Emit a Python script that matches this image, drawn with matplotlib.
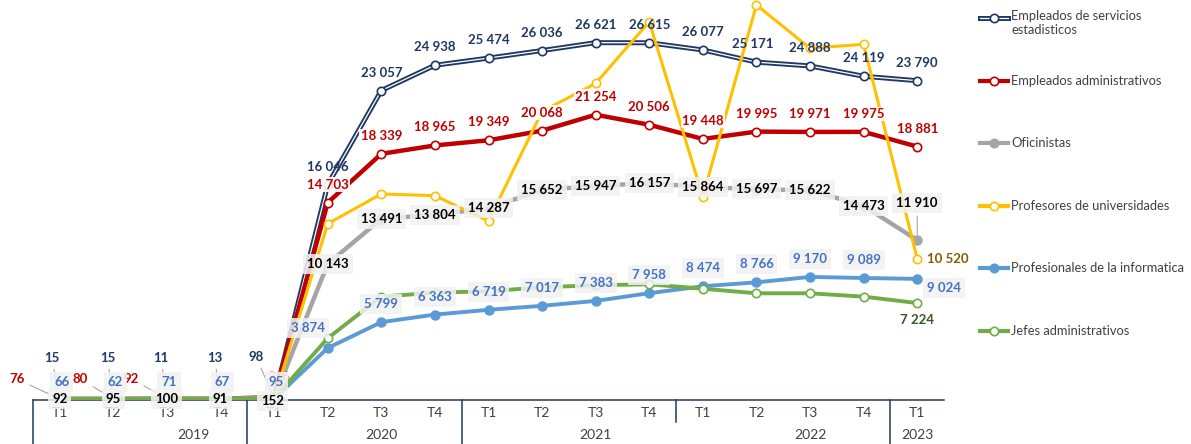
import matplotlib
matplotlib.use("Agg")
import matplotlib.pyplot as plt
from matplotlib.lines import Line2D

plt.rcParams['font.family'] = ['Lato', 'DejaVu Sans']

# data
quarters = ['T1', 'T2', 'T3', 'T4'] * 4 + ['T1']
years = ['2019', '2020', '2021', '2022', '2023']
year_pos = [2.5, 6, 10, 14, 16]
year_bounds = [-0.5, 3.5, 7.5, 11.5, 15.5]

servicios = [15, 15, 11, 13, 98, 16046, 23057, 24938, 25474, 26036, 26621, 26615, 26077, 25171, 24888, 24119, 23790]
administrativos = [76, 80, 92, 90, 216, 14703, 18339, 18965, 19349, 20068, 21254, 20506, 19448, 19995, 19971, 19975, 18881]
oficinistas = [92, 95, 100, 91, 152, 10143, 13491, 13804, 14287, 15652, 15947, 16157, 15864, 15697, 15622, 14473, 11910]
profesores = [60, 60, 60, 60, 100, 13135, 15350, 15220, 13335, 21500, 23590, 28180, 15150, 29430, 26200, 26500, 10520]
informatica = [66, 62, 71, 67, 95, 3874, 5799, 6363, 6719, 7017, 7383, 7958, 8474, 8766, 9170, 9089, 9024]
jefes = [80, 80, 85, 80, 140, 4600, 7700, 8000, 8100, 8400, 8550, 8620, 8290, 7950, 7950, 7700, 7224]

names = ['Empleados de servicios\nestadisticos', 'Empleados administrativos', 'Oficinistas',
         'Profesores de universidades', 'Profesionales de la informatica', 'Jefes administrativos']

NAVY = '#1F3864'
RED = '#C00000'
GRAY = '#A5A5A5'
YEL = '#FFC000'
BLUE = '#5B9BD5'
GREEN = '#70AD47'
TXT = '#404040'

W, H = 1191, 444
fig = plt.figure(figsize=(W / 100, H / 100), dpi=100)
ax = fig.add_axes([33 / W, 44 / H, (944 - 33) / W, 400 / H])
x = list(range(len(quarters)))

# lines
ax.plot(x, servicios, color=NAVY, lw=3.6, zorder=3, solid_capstyle='round')
ax.plot(x, servicios, color='white', lw=0.9, zorder=3.1)
ax.plot(x, servicios, ls='none', marker='o', ms=6, mfc='white', mec=NAVY, mew=1.2, zorder=3.2)
ax.plot(x, administrativos, color=RED, lw=3.2, marker='o', ms=6, mfc='white', mec=RED, mew=1.2, zorder=4)
ax.plot(x, oficinistas, color=GRAY, lw=3.2, marker='o', ms=6.5, mfc=GRAY, mec=GRAY, zorder=5)
ax.plot(x, profesores, color=YEL, lw=2.2, marker='o', ms=6, mfc='white', mec=YEL, mew=1.2, zorder=6)
ax.plot(x, informatica, color=BLUE, lw=2.8, marker='o', ms=6.5, mfc=BLUE, mec=BLUE, zorder=7)
ax.plot(x, jefes, color=GREEN, lw=2.8, marker='o', ms=6, mfc='white', mec=GREEN, mew=1.2, zorder=8)

ax.set_xlim(-0.5, 16.5)
ax.set_ylim(0, 29800)
for s in ax.spines.values():
    s.set_visible(False)
ax.set_yticks([])
ax.set_xticks(x)
ax.set_xticklabels(quarters, fontsize=10, color=TXT)
ax.tick_params(axis='x', length=0, pad=5)

# category axis lines
tr = ax.get_xaxis_transform()
ax.plot([-0.5, 16.5], [0, 0], color=NAVY, lw=1.1, transform=tr, clip_on=False, zorder=2)
for b in year_bounds:
    bottom = -0.055 if b == 11.5 else -0.11
    ax.plot([b, b], [0, bottom], color=NAVY, lw=1.1, transform=tr, clip_on=False)
for yr, p in zip(years, year_pos):
    ax.text(p, -0.088, yr, transform=tr, ha='center', va='center', fontsize=10, color=TXT)


def lab(vals, i, dx, dy, color, box=None, ha='center', alpha=1.0, leader=False, text=None):
    t = text if text is not None else f'{vals[i]:,}'.replace(',', ' ')
    kw = {}
    if box == 'gray':
        kw['bbox'] = dict(boxstyle='square,pad=0.3', fc='#F2F2F2', ec='none', alpha=0.85)
    elif box == 'white':
        kw['bbox'] = dict(boxstyle='square,pad=0.1', fc='white', ec='none', alpha=0.9)
    if leader:
        kw['arrowprops'] = dict(arrowstyle='-', color='#A6A6A6', lw=0.8, shrinkA=2, shrinkB=4)
    ax.annotate(t, (i, vals[i]), xytext=(dx * 0.72, dy * 0.72), textcoords='offset points',
                ha=ha, va='center', fontsize=9.5, fontweight='bold', color=color,
                alpha=alpha, zorder=10, **kw)


# 2019 / 2020 T1 small values
for i, dx in zip(range(5), [-8, -6, -6, -6, -18]):
    lab(servicios, i, dx, 42, NAVY, leader=True)
for i, dx in zip([0, 1, 2], [-43, -33, -36]):
    lab(administrativos, i, dx, 20, RED, leader=True)
lab(administrativos, 4, 5, 20, '#E06666', alpha=0.6)
for i in range(5):
    lab(informatica, i, 2, 17, '#4472C4', box='gray')
for i in range(4):
    lab(oficinistas, i, 0, 0, 'black', box='gray')
lab(oficinistas, 4, -2, -3, 'black', box='gray')

# main labels
for i in range(5, 17):
    lab(servicios, i, -4 if i == 13 else 0, 18, NAVY)
    lab(administrativos, i, 0, 18, RED, box='white')
    if i < 16:
        lab(oficinistas, i, 0, 0, 'black', box='gray')
    if i == 5:
        lab(informatica, i, -20, 20, '#4472C4', box='gray')
    elif i < 16:
        lab(informatica, i, 0, 18, '#4472C4', box='gray')
lab(oficinistas, 16, 0, 37, 'black', box='gray', leader=True)
lab(informatica, 16, 10, -9, '#4472C4', box='gray', ha='left')
lab(profesores, 16, 10, 0, '#7F6000', ha='left')
lab(jefes, 16, 0, -17, '#375623')

# legend
colors = [NAVY, RED, GRAY, YEL, BLUE, GREEN]
filled = [False, False, True, False, True, False]
ly = [18, 81, 143, 206, 268, 331]
for n, c, f, yy in zip(names, colors, filled, ly):
    yf = 1 - yy / H
    if c == NAVY:
        fig.add_artist(Line2D([980 / W, 1008 / W], [yf, yf], color=c, lw=3.6))
        fig.add_artist(Line2D([980 / W, 1008 / W], [yf, yf], color='white', lw=0.9))
    else:
        fig.add_artist(Line2D([980 / W, 1008 / W], [yf, yf], color=c, lw=3))
    fig.add_artist(Line2D([994 / W], [yf], marker='o', ms=6, mfc=c if f else 'white', mec=c, mew=1.2))
    va = 'top' if '\n' in n else 'center'
    fig.text(1011 / W, yf + (8 / H if va == 'top' else 0), n, ha='left', va=va,
             fontsize=9.3, color=TXT, linespacing=1.2)

fig.savefig('out.png', dpi=100)
